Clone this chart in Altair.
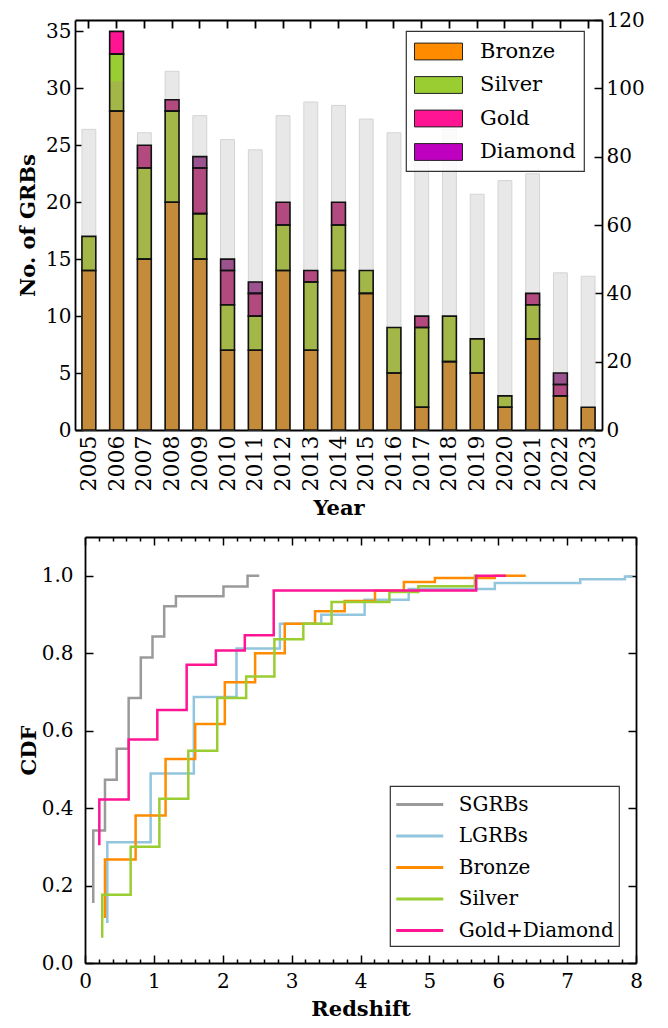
import altair as alt
import pandas as pd

# ---------------- data: top panel ----------------
years = list(range(2005, 2024))
bronze = [14, 28, 15, 20, 15, 7, 7, 14, 7, 14, 12, 5, 2, 6, 5, 2, 8, 3, 2]
silver = [3, 5, 8, 8, 4, 4, 3, 4, 6, 4, 2, 4, 7, 4, 3, 1, 3, 0, 0]
gold = [0, 2, 2, 1, 4, 3, 2, 2, 1, 2, 0, 0, 1, 0, 0, 0, 1, 1, 0]
diamond = [0, 0, 0, 0, 1, 1, 1, 0, 0, 0, 0, 0, 0, 0, 0, 0, 0, 1, 0]
total_grbs = [88, 102, 87, 105, 92, 85, 82, 92, 96, 95, 91, 87, 82, 88, 69, 73, 75, 46, 45]

tiers = ["Bronze", "Silver", "Gold", "Diamond"]
bright_colors = ["#FF8C00", "#9ACD32", "#FF1493", "#C000C0"]
muted_colors = ["#C48B3B", "#A2B748", "#B2497F", "#9B5390"]

left_max = 36
right_max = 120
left_ticks = [0, 5, 10, 15, 20, 25, 30, 35]
right_ticks = [0, 20, 40, 60, 80, 100, 120]

# ---------------- data: bottom panel ----------------
sgrb_z = [0.12, 0.12, 0.29, 0.46, 0.634, 0.81, 0.98, 1.15, 1.32, 2.01, 2.36, 2.53]
sgrb_c = [0.155, 0.342, 0.473, 0.553, 0.684, 0.789, 0.843, 0.921, 0.947, 0.972, 1.0, 1.0]
lgrb_z = [0.324, 0.324, 0.953, 1.58, 2.20, 2.83, 3.43, 4.06, 4.70, 5.95, 7.19, 7.84, 7.95]
lgrb_c = [0.103, 0.312, 0.489, 0.687, 0.812, 0.876, 0.899, 0.938, 0.966, 0.981, 0.991, 0.998, 0.998]
bron_z = [0.29, 0.29, 0.735, 1.17, 1.60, 2.03, 2.47, 2.90, 3.34, 3.77, 4.21, 4.63, 5.08, 5.95, 6.40]
bron_c = [0.116, 0.267, 0.381, 0.527, 0.617, 0.725, 0.80, 0.876, 0.908, 0.935, 0.961, 0.984, 0.994, 1.0, 1.0]
silv_z = [0.25, 0.25, 0.663, 1.08, 1.50, 1.92, 2.34, 2.75, 3.17, 3.58, 4.42, 4.84, 5.66, 5.70]
silv_c = [0.065, 0.176, 0.30, 0.424, 0.548, 0.684, 0.74, 0.836, 0.876, 0.932, 0.958, 0.973, 1.0, 1.0]
gd_z = [0.208, 0.208, 0.634, 1.05, 1.476, 1.90, 2.32, 2.74, 5.68, 6.11]
gd_c = [0.304, 0.422, 0.577, 0.653, 0.77, 0.807, 0.846, 0.962, 1.0, 1.0]

series_names = ["SGRBs", "LGRBs", "Bronze", "Silver", "Gold+Diamond"]
series_colors = ["#9A9A9A", "#92C5DE", "#FF8C00", "#9ACD32", "#FF1493"]
cdf_ticks = [0.0, 0.2, 0.4, 0.6, 0.8, 1.0]
z_ticks = [round(i * 0.2, 1) for i in range(41)]

FONT = "DejaVu Serif"

# ---------------- build tables ----------------
seg_rows = []
bright_rows = []
for i, yr in enumerate(years):
    base = 0
    gtop = total_grbs[i] * left_max / right_max
    for t, vals in zip(tiers, [bronze, silver, gold, diamond]):
        v = vals[i]
        if v > 0:
            seg_rows.append({"year": yr, "tier": t, "y0": base, "y1": base + v})
            if base + v > gtop:
                bright_rows.append({"year": yr, "tier": t, "b0": max(base, gtop), "b1": base + v})
        base += v
df_seg = pd.DataFrame(seg_rows)
df_bright = pd.DataFrame(bright_rows)
df_tot = pd.DataFrame({"year": years, "total": total_grbs})

cdf_rows = []
for name, zs, cs in zip(series_names,
                        [sgrb_z, lgrb_z, bron_z, silv_z, gd_z],
                        [sgrb_c, lgrb_c, bron_c, silv_c, gd_c]):
    for k, (z, c) in enumerate(zip(zs, cs)):
        cdf_rows.append({"series": name, "z": z, "cdf": c, "idx": k})
df_cdf = pd.DataFrame(cdf_rows)

TICK = alt.ExprRef("-8")
DOM = dict(domain=True, domainColor="black", domainWidth=1.8)

# ---------------- top panel ----------------
xband = alt.Scale(paddingInner=0.5, paddingOuter=0.25)
yleft = alt.Scale(domain=[0, left_max], nice=False)

gray = alt.Chart(df_tot).mark_bar(color="#E8E8E8", stroke="#D4D4D4", strokeWidth=1).encode(
    x=alt.X("year:O", scale=xband, title="Year",
            axis=alt.Axis(orient="bottom", labelAngle=270, tickSize=TICK, tickWidth=1.8,
                          tickColor="black", labelPadding=13, labelFontSize=22,
                          titlePadding=7, **DOM)),
    y=alt.Y("total:Q", scale=alt.Scale(domain=[0, right_max], nice=False),
            axis=alt.Axis(orient="right", values=right_ticks, title=None, tickSize=TICK,
                          tickWidth=1.5, tickColor="black", labelPadding=12,
                          grid=False, **DOM)),
)

muted = alt.Chart(df_seg).mark_bar(strokeWidth=0).encode(
    x=alt.X("year:O", scale=xband,
            axis=alt.Axis(orient="top", labels=False, tickSize=TICK, tickWidth=1.8,
                          tickColor="black", title=None, **DOM)),
    y=alt.Y("y0:Q", scale=yleft, title="No. of GRBs",
            axis=alt.Axis(orient="left", values=left_ticks, tickSize=TICK, tickWidth=1.5,
                          tickColor="black", labelPadding=12, grid=False,
                          titlePadding=7, **DOM)),
    y2="y1:Q",
    color=alt.Color("tier:N", scale=alt.Scale(domain=tiers, range=muted_colors), legend=None),
)

bright = alt.Chart(df_bright).mark_bar(strokeWidth=0).encode(
    x=alt.X("year:O", scale=xband, axis=None),
    y=alt.Y("b0:Q", scale=yleft, axis=None),
    y2="b1:Q",
    color=alt.Color("tier:N", scale=alt.Scale(domain=tiers, range=bright_colors),
                    legend=alt.Legend(title=None, orient="none", legendX=331, legendY=11,
                                      symbolType="M-2,-0.7H2V0.7H-2Z", symbolSize=576,
                                      symbolStrokeColor="#222", symbolStrokeWidth=1,
                                      symbolOffset=12, labelOffset=29,
                                      labelFontSize=21, rowPadding=10.5,
                                      padding=8, strokeColor="#333",
                                      fillColor="rgba(255,255,255,0.8)", cornerRadius=0,
                                      labelFont=FONT)),
)

outline = alt.Chart(df_seg).mark_bar(filled=False, stroke="#111", strokeWidth=1.6).encode(
    x=alt.X("year:O", scale=xband, axis=None),
    y=alt.Y("y0:Q", scale=yleft, axis=None),
    y2="y1:Q",
)

top = alt.layer(gray, muted, bright, outline).resolve_scale(
    y="independent", color="independent"
).resolve_axis(x="independent").properties(width=527, height=410)

# ---------------- bottom panel ----------------
SHIFT = 10
BW = 551
zscale = alt.Scale(domain=[0, 8], nice=False, range=[SHIFT, SHIFT + BW])
cscale = alt.Scale(domain=[0, 1.1], nice=False)
IS_INT = "abs(datum.value - round(datum.value)) < 0.001"
ZTICK = alt.ExprRef(f"{IS_INT} ? -8 : -4")

lines = alt.Chart(df_cdf).mark_line(interpolate="step-after", strokeWidth=2.5).encode(
    x=alt.X("z:Q", scale=zscale, title="Redshift",
            axis=alt.Axis(orient="bottom", values=z_ticks, tickSize=ZTICK, tickWidth=1.5,
                          tickColor="black", labelExpr=f"{IS_INT} ? format(datum.value, 'd') : ''",
                          labelPadding=16, labelFontSize=20, grid=False,
                          titlePadding=3, labelFlush=False, labelOverlap=False, **DOM)),
    y=alt.Y("cdf:Q", scale=cscale, title="CDF",
            axis=alt.Axis(orient="left", offset=-SHIFT, values=cdf_ticks, format=".1f",
                          tickSize=TICK, tickWidth=1.5, tickColor="black", labelPadding=20,
                          labelFontSize=20, grid=False, titlePadding=2, **DOM)),
    color=alt.Color("series:N", scale=alt.Scale(domain=series_names, range=series_colors),
                    legend=alt.Legend(title=None, orient="none", legendX=315, legendY=249,
                                      symbolType="M-2,0H2", symbolSize=552,
                                      symbolStrokeWidth=3, symbolOffset=11.25,
                                      labelOffset=25.5, labelFontSize=20,
                                      rowPadding=7.5, padding=5, strokeColor="#333",
                                      fillColor="white", cornerRadius=0,
                                      labelFont=FONT)),
    order="idx:Q",
)

frame = alt.Chart(df_cdf).mark_line(opacity=0).encode(
    x=alt.X("z:Q", scale=zscale,
            axis=alt.Axis(orient="top", values=z_ticks, tickSize=ZTICK, tickWidth=1.5,
                          tickColor="black", labels=False, grid=False, title=None, **DOM)),
    y=alt.Y("cdf:Q", scale=cscale,
            axis=alt.Axis(orient="right", values=cdf_ticks, tickSize=TICK, tickWidth=1.5,
                          tickColor="black", labels=False, grid=False, title=None, **DOM)),
    detail="series:N",
    order="idx:Q",
)

bottom = alt.layer(lines, frame).resolve_axis(x="independent", y="independent").properties(
    width=SHIFT + BW, height=426
)

chart = alt.vconcat(top, bottom, spacing=17).resolve_scale(
    color="independent"
).properties(
    padding={"left": 9, "top": 2, "right": 5, "bottom": 5}
).configure_view(stroke=None).configure_axis(
    labelFont=FONT, titleFont=FONT, labelFontSize=20, titleFontSize=21,
    titleFontWeight="bold", labelColor="black", titleColor="black"
).configure_legend(labelColor="black", strokeWidth=1.2)

chart.save("out.html", embed_options={"renderer": "svg", "actions": False})
